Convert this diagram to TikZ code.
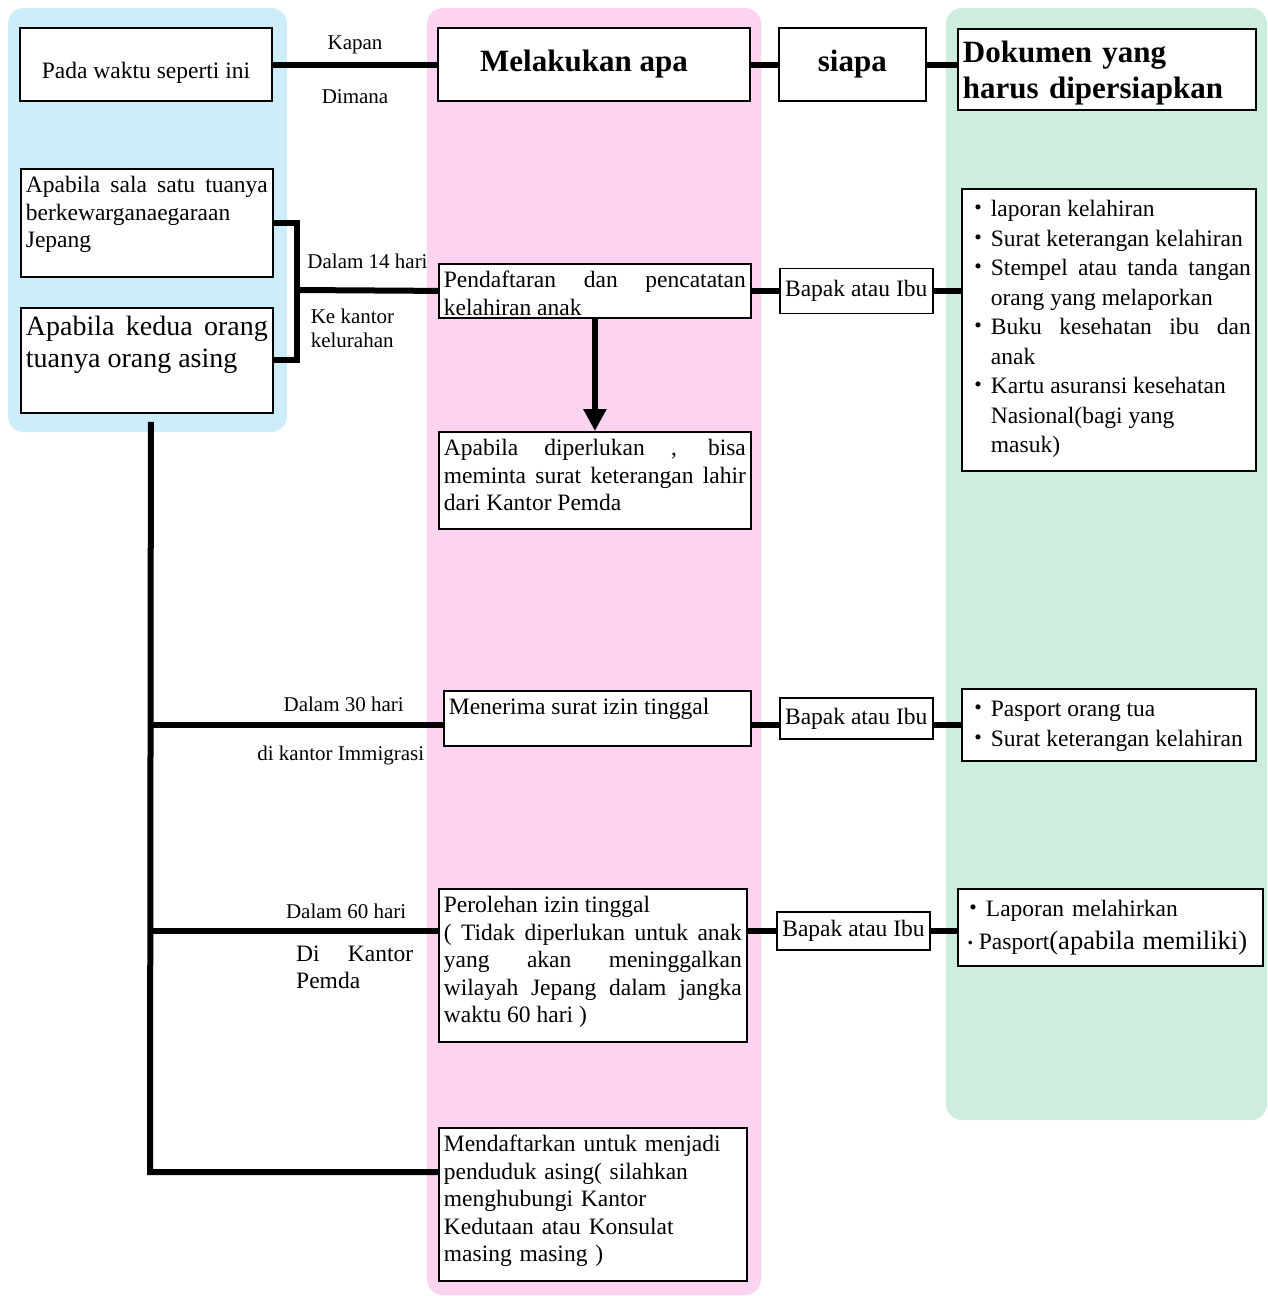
\documentclass[tikz,border=0pt]{standalone}
\usepackage{fontspec}
\setmainfont{Liberation Serif}
\newfontfamily\cjk{Noto Sans CJK JP}
\usetikzlibrary{
	arrows.meta,
	positioning,
	backgrounds,
}
\definecolor{PanelBlue}{HTML}{CDEDFA}
\definecolor{PanelPink}{HTML}{FDD3F2}
\definecolor{PanelGreen}{HTML}{CDEEDD}
\newcommand\bodysize{\fontsize{23.5}{27.5}\selectfont}
\newcommand\labsize{\fontsize{21}{24}\selectfont}
\newcommand\headsize{\fontsize{31}{36}\selectfont\bfseries}
\newcommand\itm[1][24pt]{\hangindent=#1\hangafter=1\noindent\makebox[#1][c]{\cjk\fontsize{#1}{#1}\selectfont ・}}
\hyphenpenalty=10000
\exhyphenpenalty=10000
\tolerance=9000

\begin{document}
\begin{tikzpicture}[
				x=1pt,y=-1pt,
				box/.style={draw,line width=1.8pt,fill=white,anchor=north west,inner xsep=5pt,inner ysep=4pt,font=\bodysize,align=justify,text height=20pt},
				cbox/.style={draw,line width=1.8pt,fill=white,inner sep=0pt,align=center},
				link/.style={line width=6pt},
				lab/.style={font=\labsize,inner sep=0pt,text height=14pt,text depth=4pt},
			]
			\useasboundingbox (0,0) rectangle (1268,1296);

			% kolom kiri
			\node (pada) [cbox,minimum width=252pt,minimum height=73pt,font=\bodysize,text height=27pt,text depth=0pt] at (146,64.5) {Pada waktu seperti ini};
			\node (sala) [box,text width=242pt,text depth=80pt] at (20,168) {Apabila sala satu tuanya\linebreak berkewarganaegaraan Jepang};
			\node (kedua) [box,font=\fontsize{28}{32}\selectfont,text height=24pt,text width=242pt,text depth=73pt] at (20,307) {Apabila kedua orang\linebreak tuanya orang asing};

			% kolom tengah
			\node (apa) [cbox,minimum width=312pt,minimum height=73pt,font=\headsize] at (594,64.5) {Melakukan apa\hspace*{20pt}};
			\node (pend) [box,text width=302pt,text depth=26pt] at (438,263) {Pendaftaran dan pencatatan\linebreak kelahiran anak};
			\node (mint) [box,text width=302pt,text depth=69pt] at (438,431) {Apabila diperlukan , bisa\linebreak meminta surat keterangan lahir\linebreak dari Kantor Pemda};
			\node (izin) [box,text width=297pt,text depth=27pt] at (443,690) {Menerima surat izin tinggal};
			\node (oleh) [box,text width=298pt,text depth=125pt] at (438,888) {Perolehan izin tinggal\newline ( Tidak diperlukan untuk anak\linebreak yang akan meninggalkan\linebreak wilayah Jepang dalam jangka\linebreak waktu 60 hari )};
			\node (daftar) [box,align=left,text width=298pt,text depth=125pt] at (438,1127) {Mendaftarkan untuk menjadi\\penduduk asing( silahkan\\menghubungi Kantor\\Kedutaan atau Konsulat\\masing masing )};

			% siapa
			\node (siapa) [cbox,minimum width=147pt,minimum height=73pt,font=\headsize,right=27pt of apa] {siapa};
			\node (ortu1) [cbox,minimum width=153pt,minimum height=45pt,font=\bodysize,right=27pt of pend] {Bapak atau Ibu};
			\node (ortu2) [cbox,minimum width=153pt,minimum height=41pt,font=\bodysize,right=27pt of izin] {Bapak atau Ibu};
			\node (ortu3) [cbox,minimum width=153pt,minimum height=38pt,font=\bodysize] at (853.5,931) {Bapak atau Ibu};

			% dokumen
			\node (dok) [box,font=\headsize,align=left,text width=288pt,text height=30pt,text depth=43pt] at (957,28) {Dokumen yang\\harus dipersiapkan};
			\node (doc1) [box,font=\fontsize{23.5}{29.5}\selectfont,text width=284pt,text height=24pt,text depth=250pt] at (961,188) {%
				\itm laporan kelahiran\par
				\itm Surat keterangan kelahiran\par
				\itm Stempel atau tanda tangan orang yang melaporkan\par
				\itm Buku kesehatan ibu dan anak\par
				\itm Kartu asuransi kesehatan\newline Nasional(bagi yang\newline masuk)\par};
			\node (doc2) [box,font=\fontsize{23.5}{30}\selectfont,text width=284pt,text height=24pt,text depth=40pt] at (961,688) {%
				\itm Pasport orang tua\par
				\itm Surat keterangan kelahiran\par};
			\node (doc3) [box,font=\fontsize{23.5}{33}\selectfont,align=left,inner xsep=4pt,text width=297pt,text height=24pt,text depth=45pt] at (957,888) {%
				\itm Laporan melahirkan\par
				\itm[17pt]Pasport{\fontsize{26.5}{33}\selectfont(apabila memiliki)}\par};

			% garis
			\draw[link] (pada) -- node[lab,above=8pt] {Kapan} node[lab,below=22pt] {Dimana} (apa);
			\draw[link] (apa) -- (siapa);
			\draw[link] (siapa.east) -- (siapa.east -| dok.west);

			\coordinate (join14) at (297,290);
			\draw[link] (sala.east) -| (join14) |- (kedua.east);
			\draw[link] (join14) -- node[lab,above=15pt] {Dalam 14 hari} node[lab,below=16pt,align=left,xshift=-15pt,text height=38pt] {Ke kantor\\kelurahan} (pend.west);
			\draw[link] (pend) -- (ortu1);
			\draw[link] (ortu1.east) -- (ortu1.east -| doc1.west);
			\draw[line width=6pt,-{Triangle[width=22pt,length=22pt]}] (pend) -- (mint);

			\coordinate (spine) at ([xshift=4pt,yshift=-8pt]kedua.south);
			\coordinate (foot) at (150,1172);
			\draw[link] (spine) -- (foot) -- (foot -| daftar.west);
			\draw[link] (spine |- doc2.west) -- node[lab,above=6pt,pos=0.66] {Dalam 30 hari} node[lab,below=19pt,pos=0.65] {di kantor Immigrasi} (izin.west |- doc2.west);
			\draw[link] (izin.east |- doc2.west) -- (ortu2.west |- doc2.west);
			\draw[link] (ortu2.east |- doc2.west) -- (doc2.west);
			\draw[link] (spine |- ortu3) -- node[lab,above=6pt,pos=0.68] {Dalam 60 hari} node[lab,font=\bodysize,text height=17pt,text depth=6pt,text width=117pt,align=justify,below=10pt,pos=0.71] {Di Kantor Pemda} (oleh.west |- ortu3);
			\draw[link] (oleh.east |- ortu3) -- (ortu3);
			\draw[link] (ortu3) -- (ortu3 -| doc3.west);

			\begin{scope}[on background layer]
				\fill[PanelBlue,rounded corners=16pt] (8,8) rectangle (287,432);
				\fill[PanelPink,rounded corners=16pt] (427,8) rectangle (761,1295);
				\fill[PanelGreen,rounded corners=16pt] (946,8) rectangle (1267,1120);
			\end{scope}
		\end{tikzpicture}
\end{document}
